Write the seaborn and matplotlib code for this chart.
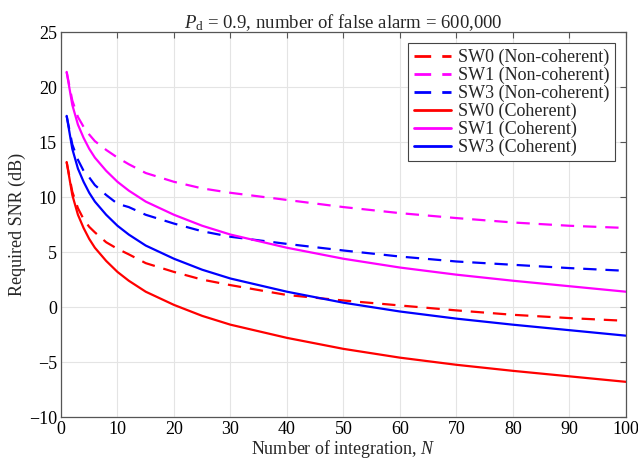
import numpy as np
import pandas as pd
import seaborn as sns
import matplotlib.pyplot as plt

# number of integrated pulses
n_int = [1, 2, 3, 4, 5, 6, 8, 10, 12, 15, 20, 25, 30, 40, 50, 60, 70, 80, 90, 100]

# required SNR (dB)
sw0_noncoh = [13.2, 10.5, 9.0, 8.0, 7.3, 6.8, 5.9, 5.3, 4.8, 4.0, 3.2, 2.5, 2.0,
              1.1, 0.6, 0.15, -0.3, -0.7, -1.0, -1.25]
sw1_noncoh = [21.4, 18.8, 17.3, 16.4, 15.7, 15.1, 14.3, 13.6, 13.0, 12.2, 11.4, 10.8,
              10.4, 9.75, 9.1, 8.55, 8.1, 7.7, 7.4, 7.2]
sw3_noncoh = [17.4, 14.8, 13.4, 12.4, 11.8, 11.1, 10.2, 9.4, 9.1, 8.4, 7.6, 6.9,
              6.4, 5.75, 5.15, 4.6, 4.15, 3.85, 3.55, 3.3]
sw0_coh = [13.2, 10.2, 8.4, 7.2, 6.2, 5.4, 4.2, 3.2, 2.4, 1.4, 0.2, -0.8, -1.6,
           -2.8, -3.8, -4.6, -5.25, -5.8, -6.3, -6.8]
sw1_coh = [21.4, 18.4, 16.6, 15.4, 14.4, 13.6, 12.4, 11.4, 10.6, 9.6, 8.4, 7.4,
           6.6, 5.4, 4.4, 3.6, 2.95, 2.4, 1.9, 1.4]
sw3_coh = [17.4, 14.4, 12.6, 11.4, 10.4, 9.6, 8.4, 7.4, 6.6, 5.6, 4.4, 3.4, 2.6,
           1.4, 0.4, -0.4, -1.05, -1.6, -2.1, -2.6]

labels = ["SW0 (Non-coherent)", "SW1 (Non-coherent)", "SW3 (Non-coherent)",
          "SW0 (Coherent)", "SW1 (Coherent)", "SW3 (Coherent)"]
series = [sw0_noncoh, sw1_noncoh, sw3_noncoh, sw0_coh, sw1_coh, sw3_coh]

df = pd.concat(
    [pd.DataFrame({"N": n_int, "SNR": s, "curve": lab}) for lab, s in zip(labels, series)],
    ignore_index=True,
)

colors = ["#ff0000", "#ff00ff", "#0000ff"] * 2
palette = dict(zip(labels, colors))
dashes = dict(zip(labels, [(6, 4)] * 3 + [""] * 3))

sns.set_style("whitegrid")
plt.rcParams["font.family"] = ["Liberation Serif", "DejaVu Serif"]
plt.rcParams["mathtext.fontset"] = "custom"
plt.rcParams["mathtext.rm"] = "Liberation Serif"
plt.rcParams["mathtext.it"] = "Liberation Serif:italic"

fig = plt.figure(figsize=(6.38, 4.62), dpi=100)
ax = fig.add_axes([0.0956, 0.0974, 0.8854, 0.8326])

sns.lineplot(
    data=df, x="N", y="SNR", hue="curve", style="curve",
    hue_order=labels, style_order=labels,
    palette=palette, dashes=dashes, linewidth=1.6, ax=ax,
)

ax.set_xlim(0, 100)
ax.set_ylim(-10, 25)
ax.set_xticks(np.arange(0, 101, 10))
ax.set_yticks(np.arange(-10, 26, 5))
ax.grid(True, color="#e4e4e4", linewidth=0.8)
for sp in ax.spines.values():
    sp.set_color("#555555")
    sp.set_linewidth(0.9)
ax.tick_params(direction="in", length=4, top=True, right=True, pad=3,
               labelsize=13, colors="#555555", labelcolor="black")

ax.set_xlabel("Number of integration, $N$", fontsize=13, labelpad=0)
ax.set_ylabel("Required SNR (dB)", fontsize=13, labelpad=2)
ax.set_title(r"$P_\mathrm{d}$ = 0.9, number of false alarm = 600,000", fontsize=13.5, pad=3)

leg = ax.legend(loc="upper right", fontsize=13, handlelength=2.05, handletextpad=0.4,
                labelspacing=0.04, borderpad=0.3, borderaxespad=0.6,
                fancybox=False, framealpha=1, edgecolor="#444444")
leg.get_frame().set_linewidth(0.8)
for line in leg.get_lines():
    line.set_linewidth(2)

fig.savefig("out.png", dpi=100)
